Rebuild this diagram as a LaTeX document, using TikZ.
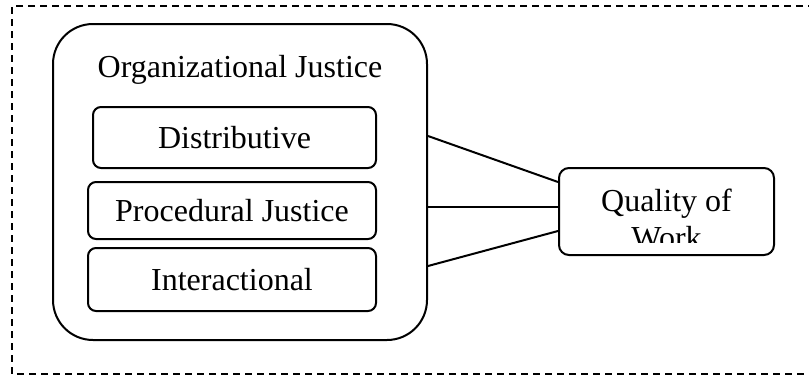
\documentclass[tikz,border=0pt]{standalone}
\usepackage{fontspec}
\setmainfont{Liberation Serif}
\begin{document}
\begin{tikzpicture}[x=0.5pt,y=-0.5pt,
  every node/.style={font=\fontsize{16}{18.5}\selectfont, inner sep=0pt},
  frame/.style={draw, line width=0.9pt, dash pattern=on 3.5pt off 2.5pt},
  outerbox/.style={draw, line width=1pt, rounded corners=20pt},
  subbox/.style={draw, line width=1pt, rounded corners=4pt},
  qbox/.style={draw, line width=1pt, rounded corners=5pt},
  link/.style={draw, line width=1pt}]
\useasboundingbox (0,0) rectangle (809,376);
\draw[frame] (815,6) -- (12,6) -- (12,374) -- (815,374);
\node[outerbox, minimum width=187pt, minimum height=158pt] (oj) at (240,182) {};
\node (title) at (240,70) {Organizational Justice};
\node[subbox, minimum width=141.5pt, minimum height=30.5pt] (dist) at (234.5,137.5) {Distributive};
\node[subbox, minimum width=144pt, minimum height=28.5pt] (proc) at (232,210.5) {Procedural Justice};
\node[subbox, minimum width=144pt, minimum height=31.5pt] (inter) at (232,279.5) {Interactional};
\node[qbox, minimum width=107.5pt, minimum height=43.5pt] (q) at (666.5,211.5) {};
\begin{scope}
\clip (559,168) rectangle (774,242);
\node[align=center, anchor=base] (qt) at (666.5,248) {Quality of\\Work};
\end{scope}
\draw[link] ([yshift=23pt]oj.east) -- ([yshift=14.75pt]q.west);
\draw[link] ([yshift=-12.5pt]oj.east) -- ([yshift=2.25pt]q.west);
\draw[link] ([yshift=-42pt]oj.east) -- ([yshift=-9.75pt]q.west);
\end{tikzpicture}
\end{document}
